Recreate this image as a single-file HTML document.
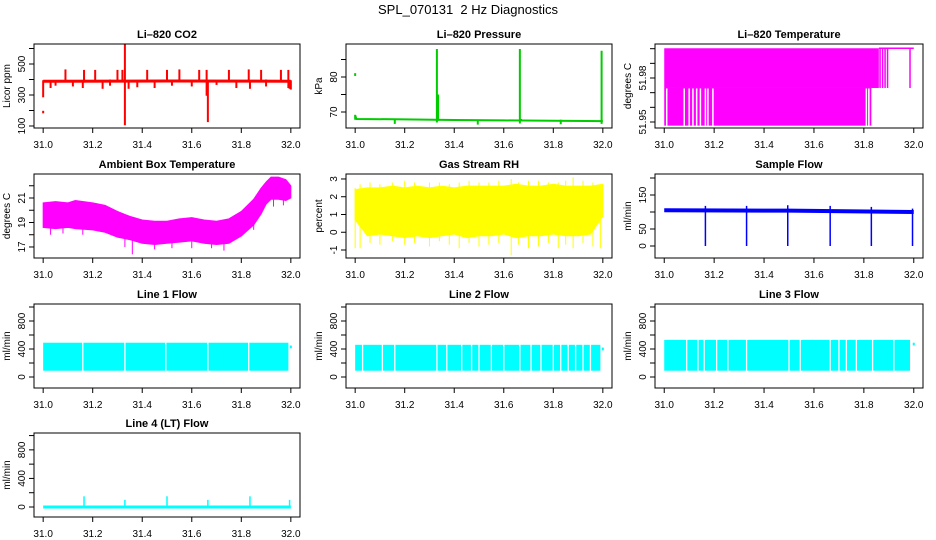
<!DOCTYPE html>
<html><head><meta charset="utf-8"><style>
html,body{margin:0;padding:0;background:#fff;}
svg{display:block;font-family:"Liberation Sans",Arial,sans-serif;}
</style></head><body>
<svg id="chart" width="936" height="540" viewBox="0 0 936 540" xmlns="http://www.w3.org/2000/svg">
<rect width="936" height="540" fill="#fff"/>
<text x="468" y="14" text-anchor="middle" font-size="13" style="white-space:pre">SPL_070131  2 Hz Diagnostics</text>
</svg>
<script>
// ---------- data ----------
const xTicks = [31.0,31.2,31.4,31.6,31.8,32.0];
const xTickLabels = ["31.0","31.2","31.4","31.6","31.8","32.0"];

const co2BaseT = [31.0,31.5,32.0];
const co2BaseV = [389,390,389];
const co2SpikeT = [31.0,31.03,31.05,31.09,31.12,31.16,31.165,31.21,31.24,31.27,31.30,31.32,31.33,31.345,31.38,31.42,31.45,31.50,31.52,31.55,31.60,31.63,31.66,31.665,31.70,31.75,31.78,31.83,31.835,31.88,31.90,31.96,31.99,31.995,32.0];
const co2SpikeLo = [285,345,360,385,355,345,380,385,340,360,385,385,105,340,350,385,345,385,360,385,355,385,295,125,365,385,345,385,340,385,355,385,345,340,335];
const co2SpikeHi = [395,395,395,465,395,395,462,462,395,400,462,462,630,395,395,462,395,462,400,465,395,462,462,395,395,462,395,465,395,462,400,462,462,395,395];
const co2DotT = [31.0];
const co2DotV = [190];

const presT = [31.0,31.005,31.2,31.4,31.6,31.8,32.0];
const presV = [69.0,68.0,67.9,67.7,67.6,67.5,67.4];
const presSpikeT = [31.0,31.16,31.33,31.335,31.495,31.665,31.67,31.83,31.995];
const presSpikeLo = [67.8,66.6,67.0,67.5,66.4,66.7,67.4,66.5,66.6];
const presSpikeHi = [69.2,68.0,88.0,75.0,67.8,88.0,68.0,67.8,87.5];
const presDotT = [31.0];
const presDotV = [80.7];

const tempLevels = [52.0003,51.9732,51.9475];
const tempUpperEnd = 31.86;
const tempLowerEnd = 31.83;
const tempLowerGaps = [31.01,31.08,31.10,31.115,31.13,31.145,31.165,31.175,31.195,31.81,31.82];
const tempTailLines = [31.865,31.875,31.885,31.895,31.985];

const ambT = [31.0,31.05,31.1,31.13,31.2,31.25,31.3,31.35,31.4,31.45,31.5,31.55,31.6,31.65,31.7,31.75,31.8,31.85,31.88,31.9,31.92,31.95,31.98,32.0];
const ambHi = [20.6,20.7,20.6,20.8,20.6,20.4,19.9,19.5,19.2,19.1,19.1,19.3,19.4,19.2,19.1,19.3,19.9,20.9,21.8,22.3,22.7,22.7,22.5,22.0];
const ambLo = [18.6,18.5,18.6,18.5,18.4,18.2,17.8,17.6,17.3,17.2,17.3,17.4,17.5,17.3,17.2,17.3,17.9,18.8,19.7,20.5,20.9,20.9,20.8,21.0];
const ambSpikeT = [31.03,31.08,31.16,31.33,31.36,31.45,31.52,31.6,31.68,31.73,31.85,31.93,31.97];
const ambSpikeV = [18.0,18.1,18.0,17.0,16.4,16.8,16.9,16.9,16.9,16.7,18.4,20.3,20.4];

const rhT = [31.0,31.05,31.1,31.15,31.2,31.25,31.3,31.35,31.4,31.45,31.5,31.55,31.6,31.65,31.7,31.75,31.8,31.85,31.9,31.95,32.0];
const rhHi = [2.4,2.5,2.5,2.6,2.5,2.6,2.5,2.6,2.5,2.6,2.6,2.6,2.6,2.7,2.6,2.6,2.7,2.6,2.6,2.6,2.7];
const rhLo = [0.7,-0.2,-0.1,-0.2,-0.3,-0.2,-0.3,-0.2,-0.1,-0.3,-0.2,-0.2,-0.1,-0.3,-0.2,-0.2,-0.1,-0.2,-0.2,-0.1,0.9];
const rhSpikeT = [31.0,31.02,31.06,31.1,31.15,31.2,31.24,31.3,31.34,31.38,31.42,31.46,31.5,31.54,31.58,31.63,31.66,31.7,31.74,31.78,31.82,31.85,31.88,31.92,31.96,31.99];
const rhSpikeLo = [-0.9,-0.9,-0.6,-0.7,-0.5,-0.7,-0.6,-0.8,-0.5,-0.7,-0.9,-0.6,-0.8,-0.7,-0.6,-1.3,-0.7,-0.9,-0.8,-0.6,-0.9,-0.7,-0.9,-0.6,-0.8,-0.9];
const rhSpikeHi = [2.5,2.7,2.8,2.7,2.8,2.9,2.8,2.8,2.8,2.7,2.8,2.9,2.8,2.8,2.9,3.0,2.8,2.9,2.9,2.8,2.8,2.9,3.1,2.9,2.8,2.7];

const flowT = [31.0,31.5,32.0];
const flowV = [105,104,100];
const flowDropT = [31.165,31.33,31.495,31.665,31.83,31.995];
const flowDropLo = [0,0,0,0,0,0];
const flowSpikeHi = [118,118,120,118,115,110];

const line1Band = [90,490];
const line1End = 31.99;
const line1Gaps = [31.16,31.33,31.495,31.665,31.83];
const line2Band = [90,460];
const line2End = 31.99;
const line2Gaps = [31.03,31.11,31.16,31.33,31.37,31.43,31.47,31.50,31.55,31.60,31.665,31.71,31.75,31.80,31.83,31.86,31.89,31.92,31.95];
const line3Band = [90,530];
const line3End = 31.985;
const line3Gaps = [31.09,31.135,31.16,31.21,31.255,31.33,31.50,31.545,31.665,31.70,31.73,31.77,31.835,31.92];

const line4BaseV = 0;
const line4SpikeT = [31.165,31.33,31.5,31.665,31.835,31.995];
const line4SpikeV = [150,100,150,100,150,100];

// ---------- layout ----------
const NS = "http://www.w3.org/2000/svg";
const svg = document.getElementById("chart");
const cols = [[34,300],[346,612],[655,923]];
const rows = [44,174,304,433];
const PH = 84;
function mk(tag, attrs, parent){
  const e = document.createElementNS(NS, tag);
  for (const k in attrs) e.setAttribute(k, attrs[k]);
  (parent||svg).appendChild(e);
  return e;
}
function panel(key, col, row, title, ylab, ydom, yticks, ylabels){
  const L = cols[col][0], R = cols[col][1], T = rows[row], B = T + PH;
  const g = mk("g", {});
  
  
  const xs = v => L + (v - 30.963) / (32.037 - 30.963) * (R - L);
  const ys = v => B - (v - ydom[0]) / (ydom[1] - ydom[0]) * PH;
  const dg = mk("g", {}, g);
  
  
  const box = mk("rect", {x:L, y:T, width:R-L, height:PH, fill:"none", stroke:"#000", "stroke-width":1}, g);
  
  
  const tt = mk("text", {x:(L+R)/2, y:T-6, "text-anchor":"middle", "font-size":11, "font-weight":"bold"}, g);
  tt.textContent = title;
  
  
  const yl = mk("text", {transform:`translate(${L-24},${(T+B)/2}) rotate(-90)`, "text-anchor":"middle", "font-size":10}, g);
  yl.textContent = ylab;
  
  
  xTicks.forEach((v,i) => {
    const t = mk("line", {x1:xs(v), x2:xs(v), y1:B, y2:B+5, stroke:"#000"}, g);
    
    
    const lb = mk("text", {x:xs(v), y:B+20, "text-anchor":"middle", "font-size":10}, g);
    lb.textContent = xTickLabels[i];
    
    
  });
  yticks.forEach(v => {
    const t = mk("line", {x1:L-5, x2:L, y1:ys(v), y2:ys(v), stroke:"#000"}, g);
    
    
  });
  ylabels.forEach(s => {
    const v = parseFloat(s);
    const lb = mk("text", {transform:`translate(${L-9},${ys(v)}) rotate(-90)`, "text-anchor":"middle", "font-size":10}, g);
    lb.textContent = s;
    
    
  });
  return {g:dg, xs, ys};
}
function vline(p, x, y0, y1, color, w, name){
  const e = mk("line", {x1:p.xs(x), x2:p.xs(x), y1:p.ys(y0), y2:p.ys(y1), stroke:color, "stroke-width":w||1}, p.g);
  
  
  return e;
}
function pline(p, ts, vs, color, w, name){
  const pts = ts.map((t,i)=>p.xs(t)+","+p.ys(vs[i])).join(" ");
  const e = mk("polyline", {points:pts, fill:"none", stroke:color, "stroke-width":w}, p.g);
  
  
  return e;
}
function envelope(p, ts, hi, lo, color, name){
  const up = ts.map((t,i)=>p.xs(t)+","+p.ys(hi[i]));
  const dn = ts.map((t,i)=>p.xs(t)+","+p.ys(lo[i])).reverse();
  const e = mk("polygon", {points:up.concat(dn).join(" "), fill:color, stroke:color, "stroke-width":1}, p.g);
  
  
  return e;
}
function band(p, t0, t1, lo, hi, color, name){
  const e = mk("rect", {x:p.xs(t0), y:p.ys(hi), width:p.xs(t1)-p.xs(t0), height:p.ys(lo)-p.ys(hi), fill:color}, p.g);
  
  
  return e;
}

// CO2
{
  const p = panel("co2",0,0,"Li\u2013820 CO2","Licor ppm",[87,629],[100,200,300,400,500,600],["100","300","500"]);
  pline(p, co2BaseT, co2BaseV, "#ff0000", 3, "co2-baseline");
  co2SpikeT.forEach((t,i)=>vline(p,t,co2SpikeLo[i],co2SpikeHi[i],"#ff0000",2,"co2-spike"));
  co2DotT.forEach((t,i)=>vline(p,t,co2DotV[i]-8,co2DotV[i]+8,"#ff0000",2,"co2-point"));
}
// Pressure
{
  const p = panel("pressure",1,0,"Li\u2013820 Pressure","kPa",[65.43,89.43],[70,75,80,85],["70","80"]);
  pline(p, presT, presV, "#00cc00", 2, "pressure-line");
  presSpikeT.forEach((t,i)=>vline(p,t,presSpikeLo[i],presSpikeHi[i],"#00cc00",2,"pressure-spike"));
  presDotT.forEach((t,i)=>vline(p,t,presDotV[i]-0.4,presDotV[i]+0.4,"#00cc00",2,"pressure-point"));
}
// Li-820 temperature
{
  const p = panel("li-temp",2,0,"Li\u2013820 Temperature","degrees C",[51.9459,52.0032],[51.95,51.96,51.97,51.98,51.99,52.00],["51.95","51.98"]);
  band(p,31.0,tempUpperEnd,tempLevels[1],tempLevels[0],"#ff00ff","temp-upper-band");
  band(p,31.0,tempLowerEnd,tempLevels[2],tempLevels[1],"#ff00ff","temp-lower-band");
  tempLowerGaps.forEach(t=>vline(p,t,tempLevels[2]-0.0005,tempLevels[1]-0.0003,"#ffffff",1.5,"temp-gap"));
  pline(p,[tempUpperEnd,32.0],[tempLevels[0],tempLevels[0]],"#ff00ff",1.5,"temp-tail-line");
  tempTailLines.forEach(t=>vline(p,t,tempLevels[1],tempLevels[0],"#ff00ff",1.5,"temp-tail-spike"));
}
// Ambient
{
  const p = panel("ambient",0,1,"Ambient Box Temperature","degrees C",[16.10,22.96],[17,18,19,20,21,22],["17","19","21"]);
  envelope(p, ambT, ambHi, ambLo, "#ff00ff", "ambient-envelope");
  ambSpikeT.forEach((t,i)=>vline(p,t,ambSpikeV[i],ambSpikeV[i]+1.2,"#ff00ff",1,"ambient-spike"));
}
// RH
{
  const p = panel("rh",1,1,"Gas Stream RH","percent",[-1.45,3.28],[-1,0,1,2,3],["-1","0","1","2","3"]);
  envelope(p, rhT, rhHi, rhLo, "#ffff00", "rh-envelope");
  rhSpikeT.forEach((t,i)=>vline(p,t,rhSpikeLo[i],rhSpikeHi[i],"#ffff00",1,"rh-spike"));
}
// Sample flow
{
  const p = panel("sample-flow",2,1,"Sample Flow","ml/min",[-35.3,211.8],[0,50,100,150,200],["0","50","150"]);
  pline(p, flowT, flowV, "#0000ff", 4, "flow-baseline");
  flowDropT.forEach((t,i)=>vline(p,t,flowDropLo[i],flowSpikeHi[i],"#0000ff",1.5,"flow-drop"));
}
// Line flows
function lineFlow(key,col,row,title,bandV,endT,gaps,dom){
  const p = panel(key,col,row,title,"ml/min",dom,[0,200,400,600,800,1000],["0","400","800"]);
  band(p,31.0,endT,bandV[0],bandV[1],"#00ffff",key+"-band");
  gaps.forEach(t=>vline(p,t,bandV[0]-5,bandV[1]+5,"#ffffff",1.3,key+"-gap"));
  vline(p,32.0,bandV[1]-80,bandV[1]-40,"#00ffff",2,key+"-end");
}
lineFlow("line1-flow",0,2,"Line 1 Flow",line1Band,line1End,line1Gaps,[-157,1043]);
lineFlow("line2-flow",1,2,"Line 2 Flow",line2Band,line2End,line2Gaps,[-157,1043]);
lineFlow("line3-flow",2,2,"Line 3 Flow",line3Band,line3End,line3Gaps,[-157,1043]);
// Line 4
{
  const p = panel("line4-flow",0,3,"Line 4 (LT) Flow","ml/min",[-140,1036],[0,200,400,600,800,1000],["0","400","800"]);
  pline(p,[31.0,32.0],[line4BaseV,line4BaseV],"#00ffff",3,"line4-baseline");
  line4SpikeT.forEach((t,i)=>vline(p,t,line4BaseV,line4SpikeV[i],"#00ffff",1.5,"line4-spike"));
}
</script>
</body></html>
